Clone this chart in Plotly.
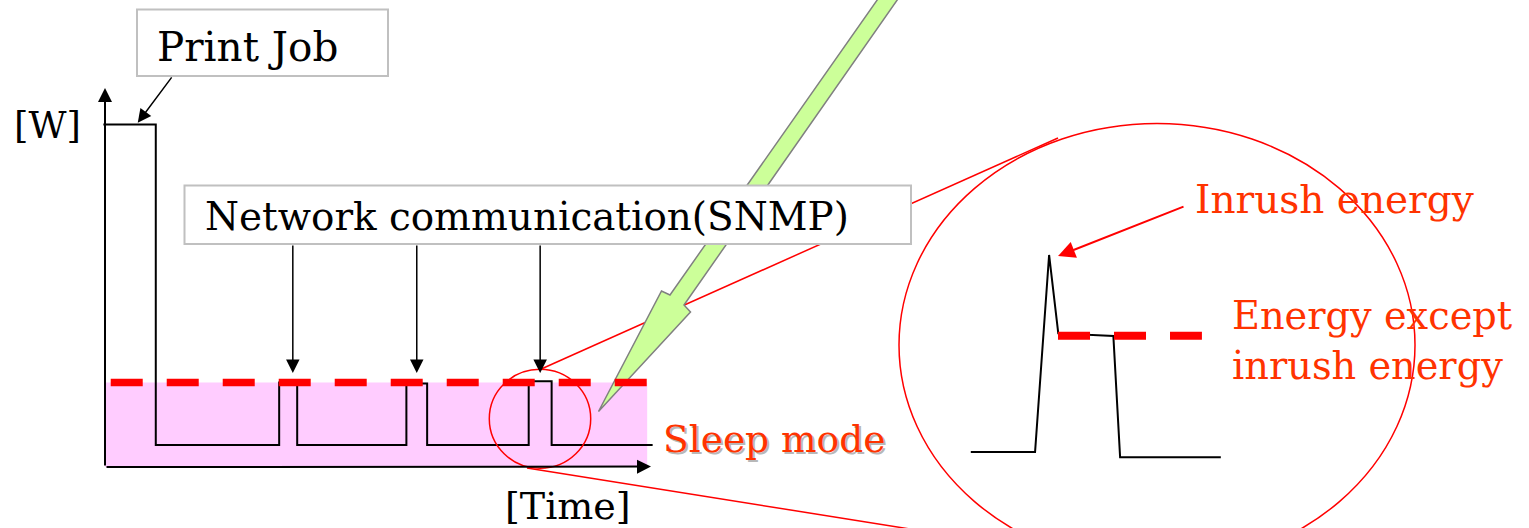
import plotly.graph_objects as go

W, H = 1529, 528

# ---------------- data (arbitrary units) ----------------
# main power trace: time [a.u.] vs power [a.u.]
job_time = [-0.3, 9.3, 9.3, 31.9, 31.9, 35.2, 35.2, 55.2, 55.2, 59.0, 59.0, 77.6, 77.6, 81.8, 81.8, 100.3]
job_power = [90.4, 90.4, 5.8, 5.8, 22.3, 22.3, 5.8, 5.8, 22.0, 22.0, 5.8, 5.8, 22.6, 22.6, 5.8, 5.8]
avg_power = 22.3
avg_time = [1.05, 99.3]
snmp_arrow_time = [34.4, 57.1, 79.7]
snmp_arrow_power = 24.8
print_arrow_time = 6.0
print_arrow_power = 90.8
axis_len_time = 100.0
axis_len_power = 100.0

# zoomed pulse (inset)
zoom_time = [4.0, 27.8, 33.0, 36.4, 56.8, 59.3, 96.6]
zoom_power = [7.8, 7.8, 93.5, 59.4, 58.3, 5.5, 5.5]
zoom_avg_power = 58.4
zoom_avg_time = [36.3, 89.6]
inrush_peak_time = 36.3
inrush_peak_power = 93.0

# labels
label_print = "Print Job"
label_w = "[W]"
label_time = "[Time]"
label_snmp = "Network communication(SNMP)"
label_sleep = "Sleep mode"
label_inrush = "Inrush energy"
label_except = "Energy except<br>inrush energy"

# ---------------- layout helpers ----------------
X0_PX, X_SCALE = 105.0, 5.46     # main axes: pixel of t=0, px per unit
Y0_PX, Y_SCALE = 467.0, 3.79     # main axes: pixel of P=0, px per unit


def main_xy(px, py):
    return (px - X0_PX) / X_SCALE, (Y0_PX - py) / Y_SCALE


def pxx(px):
    return px / W


def pxy(py):
    return 1 - py / H


FONT = "DejaVu Serif"
RED_TXT = "#ff3300"

fig = go.Figure()

# pink sleep-energy area
fig.add_trace(go.Scatter(
    x=[0, avg_time[1], avg_time[1], 0, 0],
    y=[0, 0, avg_power, avg_power, 0],
    fill="toself", fillcolor="#ffccff", line=dict(width=0),
    mode="lines", hoverinfo="skip", xaxis="x", yaxis="y"))

# green lightning arrow (decoration)
arrow_px = [(880, -4), (670, 295), (661.5, 291), (598.5, 411.5), (690.5, 312), (684, 305), (900, -4), (880, -4)]
ax_pts = [main_xy(a, b) for a, b in arrow_px]
fig.add_trace(go.Scatter(
    x=[p[0] for p in ax_pts], y=[p[1] for p in ax_pts],
    fill="toself", fillcolor="#ccff99", line=dict(color="#808080", width=1.5),
    mode="lines", hoverinfo="skip", xaxis="x", yaxis="y"))

# power waveform
fig.add_trace(go.Scatter(
    x=job_time, y=job_power, mode="lines",
    line=dict(color="black", width=2), hoverinfo="skip", xaxis="x", yaxis="y"))

# average (dashed)
fig.add_trace(go.Scatter(
    x=avg_time, y=[avg_power, avg_power], mode="lines",
    line=dict(color="#ff0000", width=7.5, dash="32px,24px"),
    hoverinfo="skip", xaxis="x", yaxis="y"))

# inset waveform
fig.add_trace(go.Scatter(
    x=zoom_time, y=zoom_power, mode="lines",
    line=dict(color="black", width=2), hoverinfo="skip", xaxis="x2", yaxis="y2"))
fig.add_trace(go.Scatter(
    x=zoom_avg_time, y=[zoom_avg_power, zoom_avg_power], mode="lines",
    line=dict(color="#ff0000", width=8, dash="32px,24px"),
    hoverinfo="skip", xaxis="x2", yaxis="y2"))

shapes = []
# red connector lines (below traces)
shapes.append(dict(type="line", xref="paper", yref="paper", layer="below",
                   x0=pxx(539), y0=pxy(370), x1=pxx(1058), y1=pxy(138),
                   line=dict(color="#ff0000", width=1.5)))
shapes.append(dict(type="line", xref="paper", yref="paper", layer="below",
                   x0=pxx(527), y0=pxy(468), x1=pxx(935), y1=pxy(533),
                   line=dict(color="#ff0000", width=1.5)))
# small circle
shapes.append(dict(type="circle", xref="paper", yref="paper", layer="above",
                   x0=pxx(489.3), x1=pxx(590.7), y0=pxy(369.3), y1=pxy(468.3),
                   line=dict(color="#ff0000", width=1.5)))
# big ellipse
shapes.append(dict(type="circle", xref="paper", yref="paper", layer="above",
                   x0=pxx(899), x1=pxx(1415), y0=pxy(123.5), y1=pxy(566.5),
                   line=dict(color="#ff0000", width=1.5)))
# boxes
shapes.append(dict(type="rect", xref="paper", yref="paper", layer="above",
                   x0=pxx(137), x1=pxx(388), y0=pxy(9.5), y1=pxy(76),
                   fillcolor="white", line=dict(color="#c0c0c0", width=2)))
shapes.append(dict(type="rect", xref="paper", yref="paper", layer="above",
                   x0=pxx(184.5), x1=pxx(911), y0=pxy(185.5), y1=pxy(244),
                   fillcolor="white", line=dict(color="#c0c0c0", width=2)))

ann = []


def text(t, x, y, size, color="black", **kw):
    d = dict(text=t, xref="paper", yref="paper", x=pxx(x), y=pxy(y),
             xanchor="left", yanchor="middle", showarrow=False,
             font=dict(family=FONT, size=size, color=color), align="left")
    d.update(kw)
    ann.append(d)


text(label_print, 155, 47, 40.5)
text(label_w, 12, 125, 37)
text(label_snmp, 203, 216.5, 38.9)
text(label_time, 503, 506, 38)
text(label_sleep, 661, 439, 37.5, color="#b8b8b8", xshift=2, yshift=-2)
text(label_sleep, 661, 439, 37.5, color=RED_TXT)
text(label_inrush, 1193, 199, 39, color=RED_TXT)
text(label_except, 1230, 340.5, 38.3, color=RED_TXT)

# axis arrows (main data coords)
ann.append(dict(x=0, y=axis_len_power, ax=0, ay=0, xref="x", yref="y", axref="x", ayref="y",
                text="", showarrow=True, arrowhead=2, arrowsize=1.4, arrowwidth=2, arrowcolor="black",
                standoff=0))
ann.append(dict(x=axis_len_time, y=0.1, ax=0, ay=0, xref="x", yref="y", axref="x", ayref="y",
                text="", showarrow=True, arrowhead=2, arrowsize=1.4, arrowwidth=2, arrowcolor="black",
                standoff=0))
# SNMP arrows
for t in snmp_arrow_time:
    ann.append(dict(x=t, y=snmp_arrow_power, xref="x", yref="y", ax=0, ay=244 - (Y0_PX - snmp_arrow_power * Y_SCALE),
                    text="", showarrow=True, arrowhead=2, arrowsize=1.8, arrowwidth=1.5,
                    arrowcolor="black", standoff=0))
# print job arrow
ann.append(dict(x=print_arrow_time, y=print_arrow_power, xref="x", yref="y", ax=35, ay=-47,
                text="", showarrow=True, arrowhead=2, arrowsize=1.8, arrowwidth=1.5,
                arrowcolor="black", standoff=0))
# inrush arrow
ann.append(dict(x=inrush_peak_time, y=inrush_peak_power, xref="x2", yref="y2", ax=127, ay=-50,
                text="", showarrow=True, arrowhead=2, arrowsize=1.7, arrowwidth=2,
                arrowcolor="#ff0000", standoff=0))

ax_common = dict(visible=False, showgrid=False, zeroline=False, fixedrange=True)
fig.update_layout(
    width=W, height=H, margin=dict(l=0, r=0, t=0, b=0, pad=0),
    paper_bgcolor="white", plot_bgcolor="rgba(0,0,0,0)", showlegend=False,
    xaxis=dict(domain=[0, 1], range=[-X0_PX / X_SCALE, (W - X0_PX) / X_SCALE], **ax_common),
    yaxis=dict(domain=[0, 1], range=[-(H - Y0_PX) / Y_SCALE, Y0_PX / Y_SCALE], **ax_common),
    xaxis2=dict(domain=[960 / W, 1230 / W], range=[0, 100], anchor="y2", **ax_common),
    yaxis2=dict(domain=[(H - 470) / H, (H - 240) / H], range=[0, 100], anchor="x2", **ax_common),
    shapes=shapes, annotations=ann,
)

fig.write_html("out.html", config={"displayModeBar": False},
               post_script="document.body.style.margin='0';document.body.style.overflow='hidden';")
